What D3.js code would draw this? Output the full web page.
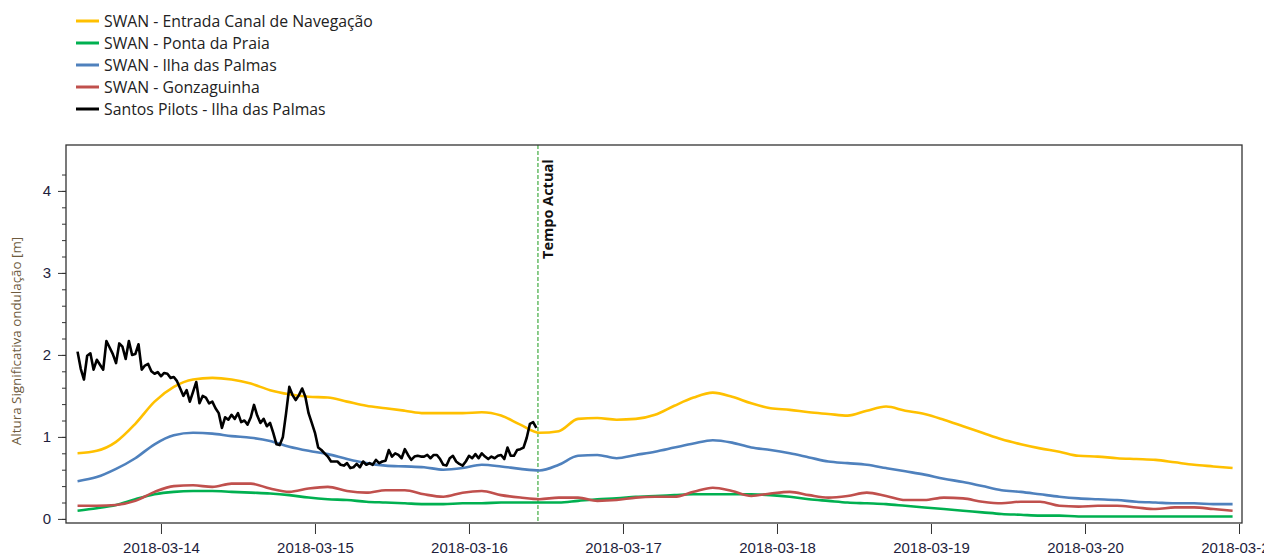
<!DOCTYPE html>
<html lang="pt">
	<head>
		<meta charset="UTF-8">
		<title>chart</title>
		<script src="https://d3js.org/d3.v7.min.js" charset="utf-8"></script>
		<style>
			body { margin: 0; background: #fff; }
			svg { font-family: "Open Sans", "Noto Sans", sans-serif; }
		</style>
	</head>
	<body>
		<svg width="1264" height="556"></svg>

		<script>
		// series names and colours (legend order)
		const seriesNames = [
			"SWAN - Entrada Canal de Navegação",
			"SWAN - Ponta da Praia",
			"SWAN - Ilha das Palmas",
			"SWAN - Gonzaguinha",
			"Santos Pilots - Ilha das Palmas"
		];
		const seriesColors = ["#ffc000", "#00b050", "#4f81bd", "#c0504d", "#000000"];

		// SWAN model output: every 3 h from 2018-03-13 11:00
		const swanStart = new Date(2018, 2, 13, 11, 0);
		const swanStepHours = 3;
		const entradaCanal = [
			0.80, 0.83, 0.94, 1.16, 1.43, 1.61, 1.70, 1.72, 1.70, 1.65,
			1.57, 1.52, 1.49, 1.48, 1.43, 1.38, 1.35, 1.32, 1.29, 1.29,
			1.29, 1.30, 1.26, 1.15, 1.05, 1.07, 1.22, 1.23, 1.21, 1.22,
			1.27, 1.38, 1.48, 1.54, 1.49, 1.41, 1.35, 1.33, 1.30, 1.28,
			1.26, 1.32, 1.37, 1.32, 1.28, 1.21, 1.13, 1.05, 0.97, 0.91,
			0.86, 0.82, 0.77, 0.76, 0.74, 0.73, 0.72, 0.69, 0.66, 0.64, 0.62
		];
		const pontaPraia = [
			0.10, 0.13, 0.17, 0.24, 0.30, 0.33, 0.34, 0.34, 0.33, 0.32,
			0.31, 0.29, 0.26, 0.24, 0.23, 0.21, 0.20, 0.19, 0.18, 0.18,
			0.19, 0.19, 0.20, 0.20, 0.20, 0.20, 0.22, 0.24, 0.25, 0.27,
			0.28, 0.29, 0.30, 0.30, 0.30, 0.30, 0.29, 0.27, 0.24, 0.22,
			0.20, 0.19, 0.18, 0.16, 0.14, 0.12, 0.10, 0.08, 0.06, 0.05,
			0.04, 0.04, 0.03, 0.03, 0.03, 0.03, 0.03, 0.03, 0.03, 0.03, 0.03
		];
		const ilhaPalmas = [
			0.46, 0.51, 0.61, 0.74, 0.91, 1.02, 1.05, 1.04, 1.01, 0.99,
			0.95, 0.88, 0.83, 0.79, 0.73, 0.68, 0.65, 0.64, 0.63, 0.60,
			0.62, 0.66, 0.64, 0.61, 0.59, 0.66, 0.77, 0.78, 0.74, 0.78,
			0.82, 0.87, 0.92, 0.96, 0.93, 0.87, 0.84, 0.80, 0.75, 0.70,
			0.68, 0.66, 0.62, 0.58, 0.54, 0.49, 0.45, 0.40, 0.35, 0.33,
			0.30, 0.27, 0.25, 0.24, 0.23, 0.21, 0.20, 0.19, 0.19, 0.18, 0.18
		];
		const gonzaguinha = [
			0.16, 0.16, 0.17, 0.22, 0.33, 0.40, 0.41, 0.39, 0.43, 0.43,
			0.37, 0.33, 0.37, 0.39, 0.34, 0.32, 0.35, 0.35, 0.30, 0.27,
			0.32, 0.34, 0.29, 0.26, 0.24, 0.26, 0.26, 0.22, 0.23, 0.26,
			0.27, 0.27, 0.33, 0.38, 0.34, 0.28, 0.31, 0.33, 0.29, 0.26,
			0.28, 0.32, 0.28, 0.23, 0.23, 0.26, 0.25, 0.21, 0.19, 0.21,
			0.21, 0.16, 0.15, 0.16, 0.16, 0.14, 0.12, 0.14, 0.14, 0.12, 0.10
		];

		// Santos Pilots measurements: every 30 min from 2018-03-13 11:00
		const pilotsStart = new Date(2018, 2, 13, 11, 0);
		const pilotsStepMinutes = 30;
		const santosPilots = [
			2.04, 1.83, 1.70, 1.99, 2.02, 1.82, 1.94, 1.88, 1.82, 2.17,
			2.09, 2.01, 1.90, 2.14, 2.10, 1.95, 2.17, 2.00, 2.01, 2.13,
			1.82, 1.87, 1.89, 1.80, 1.77, 1.79, 1.74, 1.78, 1.77, 1.72,
			1.73, 1.68, 1.59, 1.50, 1.57, 1.43, 1.55, 1.67, 1.41, 1.50,
			1.48, 1.41, 1.43, 1.35, 1.29, 1.11, 1.24, 1.21, 1.27, 1.22,
			1.29, 1.18, 1.20, 1.15, 1.24, 1.39, 1.26, 1.17, 1.22, 1.13,
			1.17, 1.05, 0.91, 0.90, 1.00, 1.29, 1.61, 1.51, 1.45, 1.51,
			1.59, 1.49, 1.29, 1.17, 1.05, 0.87, 0.84, 0.80, 0.76, 0.70,
			0.70, 0.70, 0.66, 0.65, 0.68, 0.62, 0.63, 0.67, 0.63, 0.70,
			0.66, 0.68, 0.66, 0.72, 0.68, 0.70, 0.71, 0.84, 0.76, 0.80,
			0.78, 0.74, 0.85, 0.78, 0.72, 0.76, 0.77, 0.76, 0.76, 0.78,
			0.74, 0.78, 0.78, 0.73, 0.66, 0.65, 0.74, 0.77, 0.70, 0.67,
			0.65, 0.70, 0.77, 0.74, 0.79, 0.74, 0.80, 0.76, 0.73, 0.76,
			0.74, 0.77, 0.78, 0.73, 0.87, 0.77, 0.77, 0.84, 0.85, 0.87,
			0.99, 1.16, 1.18, 1.11
		];

		const currentTime = new Date(2018, 2, 16, 10, 45);
		const currentLabel = "Tempo Actual";
		const yLabel = "Altura Significativa ondulação [m]";
		const yMajorTicks = [0, 1, 2, 3, 4];

		const plot = {left: 66, right: 1242, top: 145, bottom: 523};

		const x = d3.scaleTime()
			.domain([new Date(2018, 2, 13, 9, 12), new Date(2018, 2, 21, 0, 28)])
			.range([plot.left, plot.right]);
		const y = d3.scaleLinear()
			.domain([-0.05, 4.56])
			.range([plot.bottom, plot.top]);

		const svg = d3.select("svg");

		// build {date, value} rows
		const swanRows = arr => arr.map((v, i) => ({date: d3.timeHour.offset(swanStart, i * swanStepHours), value: v}));
		const pilotRows = santosPilots.map((v, i) => ({date: d3.timeMinute.offset(pilotsStart, i * pilotsStepMinutes), value: v}));
		const series = [
			{data: swanRows(entradaCanal), curve: d3.curveMonotoneX},
			{data: swanRows(pontaPraia), curve: d3.curveMonotoneX},
			{data: swanRows(ilhaPalmas), curve: d3.curveMonotoneX},
			{data: swanRows(gonzaguinha), curve: d3.curveMonotoneX},
			{data: pilotRows, curve: d3.curveLinear}
		];

		// clip for lines
		svg.append("clipPath").attr("id", "clip")
			.append("rect")
			.attr("x", plot.left).attr("y", plot.top)
			.attr("width", plot.right - plot.left).attr("height", plot.bottom - plot.top);

		// current time marker
		svg.append("line")
			.attr("x1", x(currentTime)).attr("x2", x(currentTime))
			.attr("y1", plot.top).attr("y2", plot.bottom)
			.attr("stroke", "#1a9a1a")
			.attr("stroke-width", 1)
			.attr("stroke-dasharray", "4,2");

		svg.append("text")
			.attr("transform", "translate(" + (x(currentTime) + 15) + "," + 259 + ") rotate(-90)")
			.attr("font-size", "14.5px")
			.attr("font-weight", "bold")
			.attr("fill", "#111")
			.text(currentLabel);

		// lines (pilots last, on top)
		const g = svg.append("g").attr("clip-path", "url(#clip)");
		series.forEach((s, i) => {
			const line = d3.line()
				.x(d => x(d.date))
				.y(d => y(d.value))
				.curve(s.curve);
			g.append("path")
				.datum(s.data)
				.attr("fill", "none")
				.attr("stroke", seriesColors[i])
				.attr("stroke-width", i === 4 ? 2.6 : 2.6)
				.attr("stroke-linejoin", "round")
				.attr("d", line);
		});

		// frame
		svg.append("rect")
			.attr("x", plot.left).attr("y", plot.top)
			.attr("width", plot.right - plot.left).attr("height", plot.bottom - plot.top)
			.attr("fill", "none")
			.attr("stroke", "#333")
			.attr("stroke-width", 1.3);

		// y axis: minor ticks every 0.2, labels on whole metres
		const yMinor = d3.range(0, 22).map(i => i * 0.2);
		svg.append("g")
			.attr("transform", "translate(" + plot.left + ",0)")
			.call(d3.axisLeft(y).tickValues(yMinor).tickSize(4).tickFormat(""))
			.call(a => a.select(".domain").remove())
			.call(a => a.selectAll("line").attr("stroke", "#333"));
		svg.append("g")
			.attr("transform", "translate(" + plot.left + ",0)")
			.call(d3.axisLeft(y).tickValues(yMajorTicks).tickSize(8).tickPadding(7).tickFormat(d3.format("d")))
			.call(a => a.select(".domain").remove())
			.call(a => a.selectAll("line").attr("stroke", "#333"))
			.call(a => a.selectAll("text").attr("font-size", "15px").attr("fill", "#1e1e3c").style("font-family", "inherit"));

		svg.append("text")
			.attr("transform", "translate(21," + 341 + ") rotate(-90)")
			.attr("text-anchor", "middle")
			.attr("font-size", "13.4px")
			.attr("fill", "#6e5b3e")
			.text(yLabel);

		// x axis, ticks below the frame
		svg.append("g")
			.attr("transform", "translate(0," + (plot.bottom + 1) + ")")
			.call(d3.axisBottom(x).ticks(d3.timeDay.every(1)).tickSize(10).tickPadding(8)
				.tickFormat(d3.timeFormat("%Y-%m-%d")))
			.call(a => a.select(".domain").remove())
			.call(a => a.selectAll("line").attr("stroke", "#333"))
			.call(a => a.selectAll("text").attr("font-size", "15px").attr("fill", "#1e1e3c").style("font-family", "inherit"));

		// legend
		const legend = svg.append("g").attr("transform", "translate(76,21)");
		seriesNames.forEach((name, i) => {
			const row = legend.append("g").attr("transform", "translate(0," + (i * 22) + ")");
			row.append("line")
				.attr("x1", 0).attr("x2", 23)
				.attr("stroke", seriesColors[i])
				.attr("stroke-width", 3);
			row.append("text")
				.attr("x", 28).attr("dy", "0.35em")
				.attr("font-size", "15.8px")
				.attr("fill", "#222")
				.text(name);
		});
		</script>
	</body>
</html>
